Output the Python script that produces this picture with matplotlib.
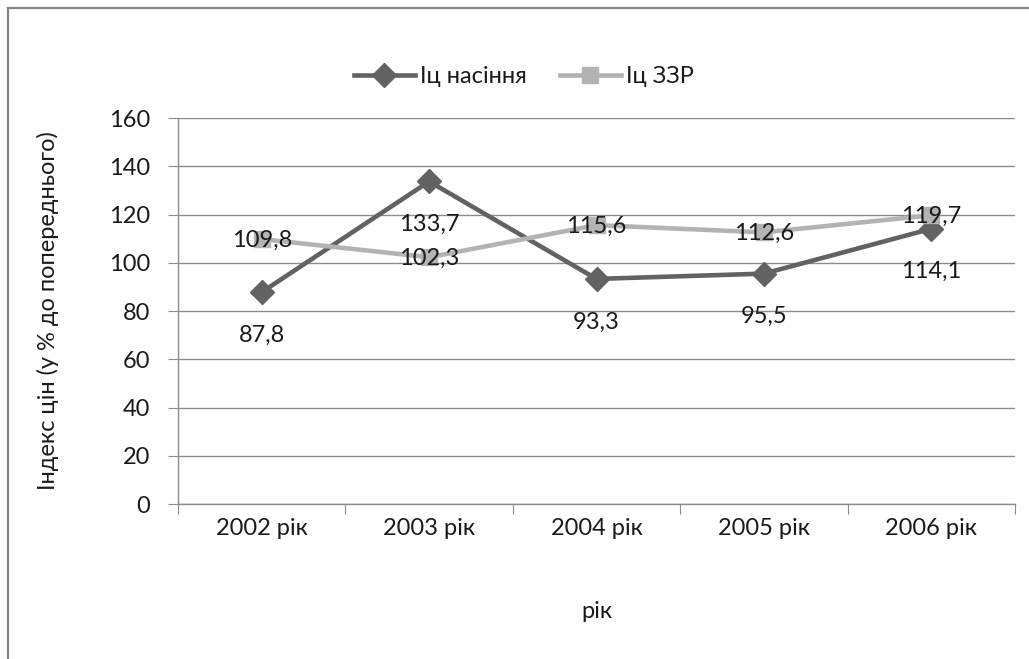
import matplotlib
matplotlib.use("Agg")
from matplotlib import pyplot as plt
from matplotlib.lines import Line2D

# data
years = ["2002 рік", "2003 рік", "2004 рік", "2005 рік", "2006 рік"]
seeds = [87.8, 133.7, 93.3, 95.5, 114.1]
szr = [109.8, 102.3, 115.6, 112.6, 119.7]
seeds_labels = ["87,8", "133,7", "93,3", "95,5", "114,1"]
szr_labels = ["109,8", "102,3", "115,6", "112,6", "119,7"]
y_ticks = [0, 20, 40, 60, 80, 100, 120, 140, 160]

plt.rcParams['font.family'] = ['Lato', 'DejaVu Sans']
plt.rcParams['font.size'] = 17
txt = '#1a1a1a'
grid_c = '#8c8c8c'
dark = '#626262'
light = '#b3b3b3'

fig = plt.figure(figsize=(10.29, 6.59), dpi=100)
ax = fig.add_axes([0.173, 0.2352, 0.8134, 0.5857])

x = list(range(len(years)))
ax.plot(x, seeds, color=dark, lw=3.3, marker='D', ms=12, zorder=3,
        label="Іц насіння")
ax.plot(x, szr, color=light, lw=3.3, marker='s', ms=12, zorder=3,
        label="Іц ЗЗР")

for xi, v, s in zip(x, seeds, seeds_labels):
    ax.annotate(s, (xi, v), xytext=(0, -31), textcoords='offset points',
                ha='center', va='center', color=txt, zorder=5)
for xi, v, s in zip(x, szr, szr_labels):
    ax.annotate(s, (xi, v), xytext=(0, -1), textcoords='offset points',
                ha='center', va='center', color=txt, zorder=5)

ax.set_ylim(0, 160)
ax.set_yticks(y_ticks)
ax.set_xlim(-0.5, len(years) - 0.5)
ax.set_xticks([i - 0.5 for i in range(len(years) + 1)])
ax.set_xticklabels([])
ax.set_xticks(x, minor=True)
ax.set_xticklabels(years, minor=True)
ax.tick_params(axis='x', which='minor', length=0, pad=10, colors=txt)
ax.tick_params(axis='x', which='major', length=7, color=grid_c, direction='out')
ax.tick_params(axis='y', length=7, color=grid_c, pad=13, labelcolor=txt)

ax.grid(axis='y', color=grid_c, lw=1)
ax.set_axisbelow(True)
for side in ['top', 'right']:
    ax.spines[side].set_visible(False)
for side in ['left', 'bottom']:
    ax.spines[side].set_color(grid_c)
    ax.spines[side].set_linewidth(1)

ax.set_xlabel("рік", color=txt, labelpad=45)
ax.set_ylabel("Індекс цін (у % до попереднього)", color=txt, labelpad=36)

ax.legend(loc='center', bbox_to_anchor=(0.413, 1.108), ncol=2, frameon=False,
          handlelength=2.6, columnspacing=1.4, handletextpad=0.2,
          labelcolor=txt)

# cropped chart-area frame: only the left and top edges are visible
fig.add_artist(Line2D([0.008, 0.008], [0, 0.988], transform=fig.transFigure,
                      color='#868686', lw=1.6))
fig.add_artist(Line2D([0.008, 1], [0.988, 0.988], transform=fig.transFigure,
                      color='#868686', lw=1.6))

fig.savefig("out.png", dpi=100)
